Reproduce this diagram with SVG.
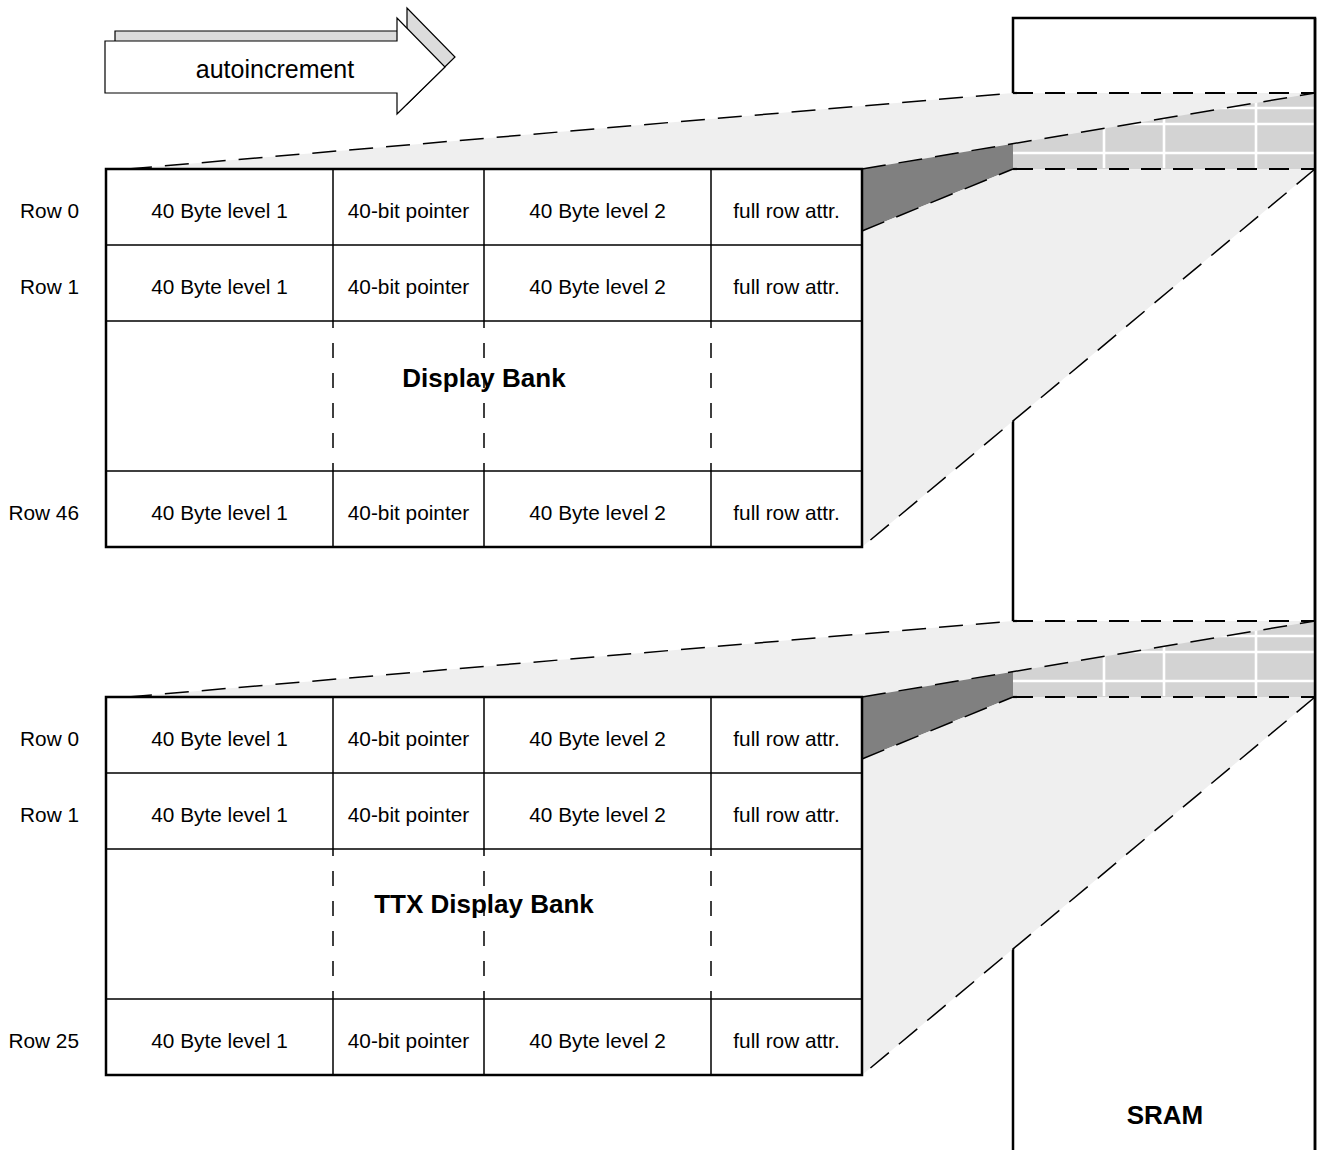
<svg xmlns="http://www.w3.org/2000/svg" width="1318" height="1150" viewBox="0 0 1318 1150">
<style>
  .t{font-family:"Liberation Sans",Arial,sans-serif;font-size:20.8px;fill:#000;text-anchor:middle}
  .rl{font-family:"Liberation Sans",Arial,sans-serif;font-size:20.8px;fill:#000;text-anchor:end}
  .b{font-family:"Liberation Sans",Arial,sans-serif;font-size:26px;font-weight:bold;fill:#000;text-anchor:middle}
  .outer{fill:#fff;stroke:#000;stroke-width:2.5}
  .in{stroke:#000;stroke-width:1.5;fill:none}
  .vd{stroke:#000;stroke-width:1.5;fill:none;stroke-dasharray:15 15;stroke-dashoffset:8}
  .lg{fill:#efefef}
  .mg{fill:#d3d3d3}
  .dg{fill:#808080}
  .wg{stroke:#fff;stroke-width:2.6;fill:none}
  .dh{stroke:#000;stroke-width:2.2;fill:none;stroke-dasharray:20 12}
  .dd{stroke:#000;stroke-width:1.5;fill:none;stroke-dasharray:24 13}
</style>

<!-- SRAM -->
<g id="sram">
  <rect x="1013" y="18" width="302" height="1150" fill="#fff" stroke="#000" stroke-width="2.5"/>
  <text class="b" x="1165" y="1124">SRAM</text>
</g>

<!-- autoincrement arrow -->
<g id="autoincrement">
  <polygon points="115,31 407,31 407,8 455,57 407,104 407,83 115,83" fill="#dcdcdc" stroke="#000" stroke-width="1.2"/>
  <polygon points="105,41 397,41 397,18 445,67 397,114 397,93 105,93" fill="#fff" stroke="#000" stroke-width="1.2"/>
  <text x="275" y="78" font-family="Liberation Sans, Arial, sans-serif" font-size="25" text-anchor="middle">autoincrement</text>
</g>

<!-- projection bands -->
<g id="projection-1">
  <rect class="mg" x="1013" y="93" width="302" height="76"/>
  <path class="wg" d="M1013,108H1315M1013,124H1315M1013,153H1315M1104,93V168M1164,93V168M1256,93V168"/>
  <polygon class="lg" points="128,169 1013,93 1315,93 862,169"/>
  <polygon class="dg" points="862,169 1013,143.7 1013,169 862,231"/>
  <polygon class="lg" points="862,231 1013,169 1315,169 862,547"/>
</g>
<g id="projection-2" transform="translate(0,528)">
  <rect class="mg" x="1013" y="93" width="302" height="76"/>
  <path class="wg" d="M1013,108H1315M1013,124H1315M1013,153H1315M1104,93V168M1164,93V168M1256,93V168"/>
  <polygon class="lg" points="128,169 1013,93 1315,93 862,169"/>
  <polygon class="dg" points="862,169 1013,143.7 1013,169 862,231"/>
  <polygon class="lg" points="862,231 1013,169 1315,169 862,547"/>
</g>
<line x1="1315" y1="18" x2="1315" y2="1150" stroke="#000" stroke-width="2.5"/>

<!-- connectors -->
<g id="connectors">
  <g>
    <line class="dd" x1="128" y1="169" x2="1013" y2="93"/>
    <line class="dh" x1="1013" y1="93" x2="1315" y2="93"/>
    <line class="dd" x1="862" y1="169" x2="1315" y2="93"/>
    <line class="dh" x1="1013" y1="169" x2="1315" y2="169"/>
    <line class="dd" x1="862" y1="231" x2="1013" y2="169"/>
    <line class="dd" x1="1315" y1="169" x2="862" y2="547"/>
  </g>
  <g transform="translate(0,528)">
    <line class="dd" x1="128" y1="169" x2="1013" y2="93"/>
    <line class="dh" x1="1013" y1="93" x2="1315" y2="93"/>
    <line class="dd" x1="862" y1="169" x2="1315" y2="93"/>
    <line class="dh" x1="1013" y1="169" x2="1315" y2="169"/>
    <line class="dd" x1="862" y1="231" x2="1013" y2="169"/>
    <line class="dd" x1="1315" y1="169" x2="862" y2="547"/>
  </g>
</g>

<!-- Display Bank -->
<g id="display-bank">
  <rect class="outer" x="106" y="169" width="756" height="378"/>
  <path class="in" d="M106,245H862M106,321H862M106,471H862M333,169V321M484,169V321M711,169V321M333,471V547M484,471V547M711,471V547"/>
  <path class="vd" d="M333,321V471M484,321V471M711,321V471"/>
  <text class="rl" x="79" y="217.5">Row 0</text>
  <text class="t" x="219.5" y="217.5">40 Byte level 1</text>
  <text class="t" x="408.5" y="217.5">40-bit pointer</text>
  <text class="t" x="597.5" y="217.5">40 Byte level 2</text>
  <text class="t" x="786.5" y="217.5">full row attr.</text>
  <text class="rl" x="79" y="293.5">Row 1</text>
  <text class="t" x="219.5" y="293.5">40 Byte level 1</text>
  <text class="t" x="408.5" y="293.5">40-bit pointer</text>
  <text class="t" x="597.5" y="293.5">40 Byte level 2</text>
  <text class="t" x="786.5" y="293.5">full row attr.</text>
  <text class="b" x="484" y="387">Display Bank</text>
  <text class="rl" x="79" y="519.5">Row 46</text>
  <text class="t" x="219.5" y="519.5">40 Byte level 1</text>
  <text class="t" x="408.5" y="519.5">40-bit pointer</text>
  <text class="t" x="597.5" y="519.5">40 Byte level 2</text>
  <text class="t" x="786.5" y="519.5">full row attr.</text>
</g>

<!-- TTX Display Bank -->
<g id="ttx-display-bank" transform="translate(0,528)">
  <rect class="outer" x="106" y="169" width="756" height="378"/>
  <path class="in" d="M106,245H862M106,321H862M106,471H862M333,169V321M484,169V321M711,169V321M333,471V547M484,471V547M711,471V547"/>
  <path class="vd" d="M333,321V471M484,321V471M711,321V471"/>
  <text class="rl" x="79" y="217.5">Row 0</text>
  <text class="t" x="219.5" y="217.5">40 Byte level 1</text>
  <text class="t" x="408.5" y="217.5">40-bit pointer</text>
  <text class="t" x="597.5" y="217.5">40 Byte level 2</text>
  <text class="t" x="786.5" y="217.5">full row attr.</text>
  <text class="rl" x="79" y="293.5">Row 1</text>
  <text class="t" x="219.5" y="293.5">40 Byte level 1</text>
  <text class="t" x="408.5" y="293.5">40-bit pointer</text>
  <text class="t" x="597.5" y="293.5">40 Byte level 2</text>
  <text class="t" x="786.5" y="293.5">full row attr.</text>
  <text class="b" x="484" y="385">TTX Display Bank</text>
  <text class="rl" x="79" y="519.5">Row 25</text>
  <text class="t" x="219.5" y="519.5">40 Byte level 1</text>
  <text class="t" x="408.5" y="519.5">40-bit pointer</text>
  <text class="t" x="597.5" y="519.5">40 Byte level 2</text>
  <text class="t" x="786.5" y="519.5">full row attr.</text>
</g>
</svg>
